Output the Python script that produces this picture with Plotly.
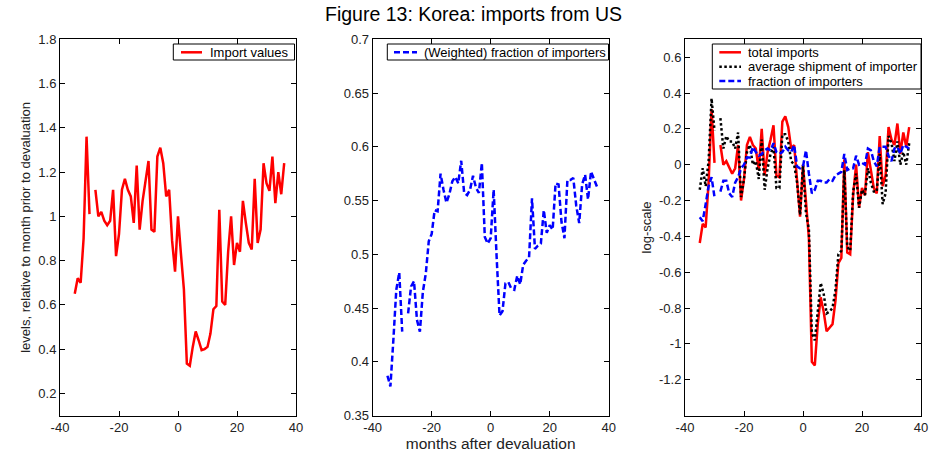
import plotly.graph_objects as go

months = list(range(-35, 37))

import_values = [0.65, 0.72, 0.70, 0.90, 1.36, 1.01, None, 1.12, 1.00, 1.02, 0.98, 0.96, 0.98, 1.12,
                 0.82, 0.92, 1.12, 1.17, 1.12, 1.09, 0.97, 1.23, 0.94, 1.07, 1.15, 1.25, 0.94, 0.93,
                 1.27, 1.31, 1.24, 1.09, 1.12, 0.89, 0.75, 1.00, 0.83, 0.67, 0.335, 0.325, 0.41, 0.48,
                 0.44, 0.395, 0.40, 0.41, 0.47, 0.58, 0.595, 1.03, 0.615, 0.60, 0.84, 1.00, 0.78, 0.88,
                 0.84, 1.07, 0.97, 0.88, 0.85, 1.17, 0.88, 0.94, 1.24, 1.15, 1.115, 1.27, 1.06, 1.20,
                 1.10, 1.24]

weighted_fraction = [0.387, 0.377, 0.42, 0.467, 0.483, 0.428, None, 0.445, 0.47, 0.475, 0.439, 0.428,
                     0.465, 0.482, 0.512, 0.519, 0.541, 0.54, 0.575, 0.56, 0.548, 0.556, 0.568, 0.572,
                     0.566, 0.587, 0.557, 0.555, 0.56, 0.573, 0.562, 0.557, 0.585, 0.516, 0.51, 0.515,
                     0.56, 0.498, 0.443, 0.447, 0.473, 0.474, 0.468, 0.467, 0.48, 0.472, 0.49, 0.494,
                     0.497, 0.552, 0.505, 0.508, 0.51, 0.541, 0.52, 0.527, 0.523, 0.566, 0.565, 0.53,
                     0.515, 0.569, 0.569, 0.571, 0.545, 0.529, 0.565, 0.574, 0.551, 0.577, 0.57, 0.563]

total_imports = [-0.437, -0.33, -0.35, -0.10, 0.31, 0.01, None, 0.11, 0.0, 0.02, -0.02, -0.05, -0.02,
                 0.11, -0.20, -0.08, 0.11, 0.155, 0.11, 0.09, -0.03, 0.20, -0.06, 0.07, 0.14, 0.22,
                 -0.06, -0.07, 0.24, 0.27, 0.21, 0.09, 0.11, -0.11, -0.29, 0.0, -0.19, -0.41, -1.10,
                 -1.12, -0.89, -0.74, -0.82, -0.93, -0.91, -0.89, -0.76, -0.55, -0.52, 0.03, -0.49,
                 -0.50, -0.17, 0.0, -0.24, -0.13, -0.17, 0.07, -0.03, -0.13, -0.16, 0.16, -0.12, -0.06,
                 0.21, 0.14, 0.11, 0.23, 0.06, 0.18, 0.10, 0.21]

avg_shipment = [-0.14, -0.02, -0.12, 0.02, 0.37, 0.19, None, 0.26, 0.09, 0.16, 0.13, 0.13, 0.09, 0.18,
                -0.18, -0.08, 0.07, 0.11, 0.0, 0.02, -0.08, 0.14, -0.14, -0.02, 0.06, 0.10, -0.13,
                -0.13, 0.17, 0.17, 0.13, 0.02, 0.0, -0.10, -0.28, 0.0, -0.27, -0.36, -0.94, -0.98,
                -0.80, -0.66, -0.72, -0.83, -0.82, -0.80, -0.70, -0.50, -0.48, -0.03, -0.46, -0.48,
                -0.15, -0.05, -0.24, -0.14, -0.17, -0.02, -0.10, -0.15, -0.15, 0.06, -0.22, -0.16,
                0.16, 0.12, 0.02, 0.13, 0.0, 0.07, 0.0, 0.12]

fraction_importers = [-0.293, -0.315, -0.22, -0.12, -0.07, -0.18, None, -0.15, -0.09, -0.09, -0.16,
                      -0.18, -0.10, -0.07, -0.02, 0.0, 0.04, 0.04, 0.10, 0.07, 0.05, 0.06, 0.08, 0.09,
                      0.08, 0.12, 0.07, 0.06, 0.07, 0.10, 0.08, 0.07, 0.11, -0.01, -0.02, -0.01, 0.08,
                      -0.05, -0.16, -0.14, -0.09, -0.09, -0.10, -0.10, -0.08, -0.09, -0.06, -0.05,
                      -0.04, 0.06, -0.03, -0.02, -0.02, 0.05, 0.0, 0.01, 0.0, 0.09, 0.08, 0.02, -0.01,
                      0.10, 0.10, 0.10, 0.05, 0.02, 0.09, 0.10, 0.06, 0.11, 0.10, 0.09]

x_ticks = [-40, -20, 0, 20, 40]
x_labels = ["-40", "-20", "0", "20", "40"]
y1_ticks = [0.2, 0.4, 0.6, 0.8, 1.0, 1.2, 1.4, 1.6, 1.8]
y1_labels = ["0.2", "0.4", "0.6", "0.8", "1", "1.2", "1.4", "1.6", "1.8"]
y2_ticks = [0.35, 0.4, 0.45, 0.5, 0.55, 0.6, 0.65, 0.7]
y2_labels = ["0.35", "0.4", "0.45", "0.5", "0.55", "0.6", "0.65", "0.7"]
y3_ticks = [-1.2, -1.0, -0.8, -0.6, -0.4, -0.2, 0.0, 0.2, 0.4, 0.6]
y3_labels = ["-1.2", "-1", "-0.8", "-0.6", "-0.4", "-0.2", "0", "0.2", "0.4", "0.6"]

FONT = "Liberation Sans, Arial, sans-serif"
W, H = 947, 457

RED = dict(color="#ff0000", width=2.5)
BLUE = dict(color="#0000ff", width=2.5, dash="6px,3px")
BLACK = dict(color="#000000", width=2.5, dash="2.5px,2.5px")

fig = go.Figure()
fig.add_trace(go.Scatter(x=months, y=import_values, mode="lines", name="Import values",
                         line=RED, xaxis="x", yaxis="y", showlegend=False))
fig.add_trace(go.Scatter(x=months, y=weighted_fraction, mode="lines",
                         name="(Weighted) fraction of importers", line=BLUE,
                         xaxis="x2", yaxis="y2", showlegend=False))
fig.add_trace(go.Scatter(x=months, y=total_imports, mode="lines", name="total imports",
                         line=RED, xaxis="x3", yaxis="y3", showlegend=False))
fig.add_trace(go.Scatter(x=months, y=avg_shipment, mode="lines",
                         name="average shipment of importer", line=BLACK,
                         xaxis="x3", yaxis="y3", showlegend=False))
fig.add_trace(go.Scatter(x=months, y=fraction_importers, mode="lines",
                         name="fraction of importers", line=BLUE,
                         xaxis="x3", yaxis="y3", showlegend=False))

ydom = [1 - 415.5 / H, 1 - 39.3 / H]
axis_common = dict(showline=True, linecolor="black", linewidth=1, mirror="allticks",
                   ticks="inside", ticklen=5, tickcolor="black", showgrid=False,
                   zeroline=False, automargin=False,
                   tickfont=dict(family=FONT, size=13, color="#222"))


def xax(d0, d1, anchor, title=None):
    a = dict(axis_common, domain=[d0 / W, d1 / W], range=[-40, 40], anchor=anchor,
             tickvals=x_ticks, ticktext=x_labels)
    if title:
        a["title"] = dict(text=title, font=dict(family=FONT, size=15.5, color="#222"), standoff=2)
    return a


def yax(rng, tv, tt, anchor, title=None):
    a = dict(axis_common, domain=ydom, range=rng, anchor=anchor, tickvals=tv, ticktext=tt)
    if title:
        a["title"] = dict(text=title, font=dict(family=FONT, size=13, color="#222"), standoff=4)
    return a


# Manual legend boxes (pixel layout converted to paper coordinates)
shapes = []
annotations = []


def px(x):
    return x / W


def py(y):
    return 1 - y / H


def legend_box(x0, x1, y0, y1, entries, line_x0, line_x1, text_x, row_y):
    shapes.append(dict(type="rect", xref="paper", yref="paper", x0=px(x0), x1=px(x1),
                       y0=py(y1), y1=py(y0), line=dict(color="black", width=1),
                       fillcolor="white", layer="above"))
    for (label, style), yy in zip(entries, row_y):
        shapes.append(dict(type="line", xref="paper", yref="paper", x0=px(line_x0),
                           x1=px(line_x1), y0=py(yy), y1=py(yy), line=style, layer="above"))
        annotations.append(dict(text=label, xref="paper", yref="paper", x=px(text_x), y=py(yy),
                                xanchor="left", yanchor="middle", showarrow=False,
                                font=dict(family=FONT, size=13, color="black")))


legend_box(173.3, 294.5, 44, 60, [("Import values", RED)], 181, 202, 208, [52.3])
legend_box(387.3, 608.5, 44, 60, [("(Weighted) fraction of importers", BLUE)], 394, 417, 422,
           [52.3])
legend_box(712.3, 921, 44, 89,
           [("total imports", RED), ("average shipment of importer", BLACK),
            ("fraction of importers", BLUE)], 719.3, 741, 746, [52.3, 66.7, 81])

fig.update_layout(
    width=W, height=H,
    margin=dict(l=0, r=0, t=0, b=0),
    paper_bgcolor="white", plot_bgcolor="white",
    font=dict(family=FONT, color="#222"),
    title=dict(text="Figure 13: Korea: imports from US", x=0.5, xanchor="center",
               y=1 - 14 / H, yanchor="middle", font=dict(family=FONT, size=19.5, color="black")),
    xaxis=xax(60, 296, "y"),
    yaxis=yax([0.1, 1.8], y1_ticks, y1_labels, "x",
              "levels, relative to month prior to devaluation"),
    xaxis2=xax(372.7, 608.7, "y2", "months after devaluation"),
    yaxis2=yax([0.35, 0.7], y2_ticks, y2_labels, "x2"),
    xaxis3=xax(685, 921, "y3"),
    yaxis3=yax([-1.4, 0.7], y3_ticks, y3_labels, "x3", "log-scale"),
    shapes=shapes,
    annotations=annotations,
    showlegend=False,
)

fig.write_html("out.html", config={"displayModeBar": False},
               post_script="document.body.style.margin='0';document.body.style.padding='0';")
